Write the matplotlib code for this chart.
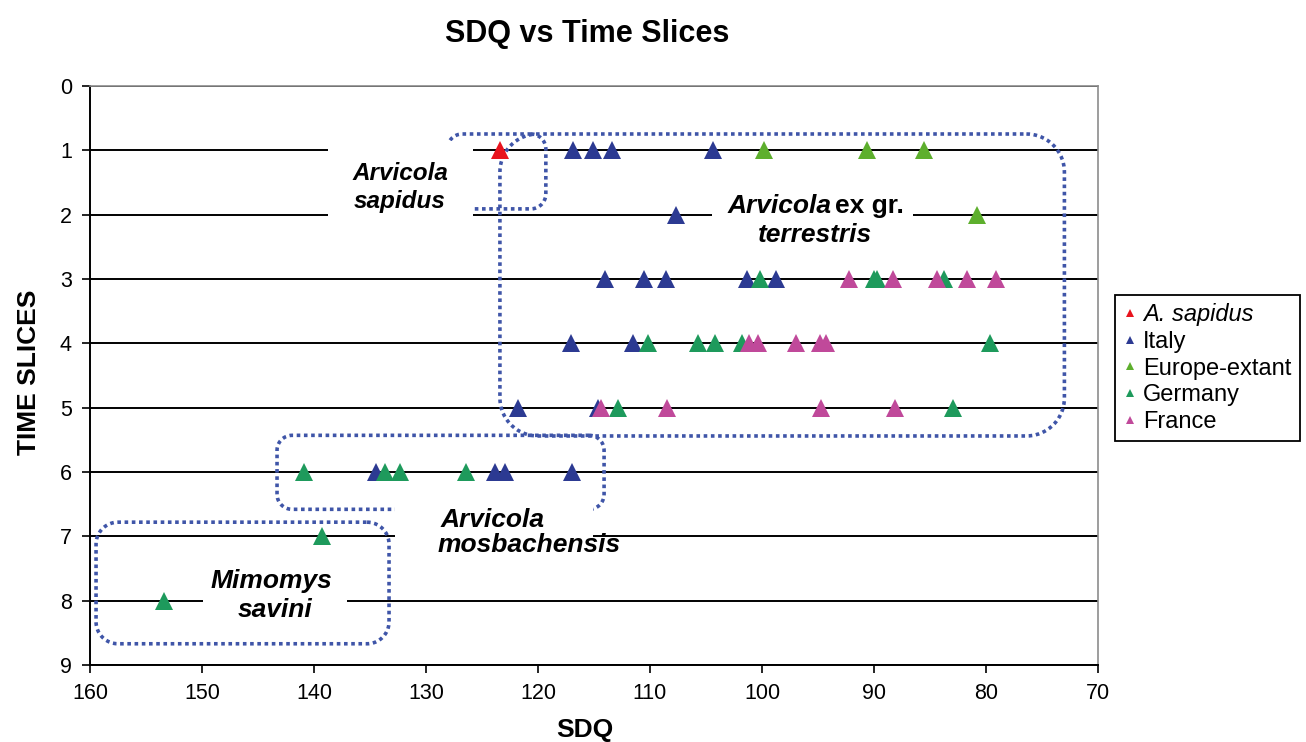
import numpy as np
import matplotlib
matplotlib.use("Agg")
import matplotlib.pyplot as plt
from matplotlib.patches import Rectangle

plt.rcParams['font.family'] = ['Liberation Sans', 'DejaVu Sans']

#Data (SDQ value, time slice)
sapidus_sdq = [123.4]
sapidus_slice = [1]

italy_sdq = [116.9, 115.1, 113.4, 104.4,
             107.7,
             114.0, 110.5, 108.6, 101.3, 98.75,
             117.05, 111.5,
             121.8, 114.6,
             134.5, 123.8, 122.95, 117.0]
italy_slice = [1, 1, 1, 1,
               2,
               3, 3, 3, 3, 3,
               4, 4,
               5, 5,
               6, 6, 6, 6]

europe_sdq = [99.8, 90.6, 85.5, 80.8]
europe_slice = [1, 1, 1, 2]

germany_sdq = [100.2, 90.0, 89.7, 83.75,
               110.2, 105.7, 104.2, 101.8, 79.6,
               112.9, 82.95,
               140.9, 133.7, 132.3, 126.4,
               139.3,
               153.4]
germany_slice = [3, 3, 3, 3,
                 4, 4, 4, 4, 4,
                 5, 5,
                 6, 6, 6, 6,
                 7,
                 8]

france_sdq = [92.2, 88.3, 84.4, 81.7, 79.1,
              101.2, 100.4, 97.0, 94.8, 94.3,
              114.4, 108.5, 94.7, 88.1]
france_slice = [3, 3, 3, 3, 3,
                4, 4, 4, 4, 4,
                5, 5, 5, 5]

series_names = ["A. sapidus", "Italy", "Europe-extant", "Germany", "France"]
series_colors = ["#E8141E", "#2C3A92", "#5DAF2D", "#1E9A5C", "#C0499A"]

x_ticks = list(range(160, 69, -10))
y_ticks = list(range(0, 10))

#Figure and axes
W, H = 1306, 742
fig = plt.figure(figsize=(W/100, H/100), dpi=100)
ax = fig.add_axes([90/W, 1 - 665/H, 1008/W, 579/H])
ax.set_xlim(160, 70)
ax.set_ylim(9, 0)
ax.set_xticks(x_ticks)
ax.set_yticks(y_ticks)
ax.tick_params(labelsize=15.5, length=6, width=1.2, pad=7, direction='out')
ax.grid(axis='y', color='black', lw=1.4)
ax.set_axisbelow(True)
for s in ['left', 'bottom']:
    ax.spines[s].set_linewidth(1.4)
for s in ['top', 'right']:
    ax.spines[s].set_color('#8c8c8c')
    ax.spines[s].set_linewidth(1.2)

#Points
all_sdq = [sapidus_sdq, italy_sdq, europe_sdq, germany_sdq, france_sdq]
all_slice = [sapidus_slice, italy_slice, europe_slice, germany_slice, france_slice]
for xs, ys, name, col in zip(all_sdq, all_slice, series_names, series_colors):
    ax.plot(xs, ys, linestyle='none', marker='^', ms=12.5, color=col,
            mec=col, mew=0, label=name, zorder=4, clip_on=False)

#Rounded dotted boxes (data extents, corner radius in pixels)
def rounded_box(x_a, x_b, y_a, y_b, r):
    p1 = ax.transData.transform((x_a, y_a))
    p2 = ax.transData.transform((x_b, y_b))
    L, R = min(p1[0], p2[0]), max(p1[0], p2[0])
    B, T = min(p1[1], p2[1]), max(p1[1], p2[1])
    pts = []
    for cx, cy, a0, a1 in [(R - r, T - r, 90, 0), (R - r, B + r, 0, -90),
                           (L + r, B + r, -90, -180), (L + r, T - r, 180, 90)]:
        ang = np.radians(np.linspace(a0, a1, 20))
        pts += list(zip(cx + r*np.cos(ang), cy + r*np.sin(ang)))
    pts.append(pts[0])
    d = ax.transData.inverted().transform(np.array(pts))
    ax.plot(d[:, 0], d[:, 1], color='#3F55A8', lw=2.6, linestyle=(0, (1, 1)),
            dash_capstyle='butt', zorder=1.5, clip_on=False)

rounded_box(123.4, 73.0, 0.746, 5.44, 38)
rounded_box(128.1, 119.3, 0.746, 1.91, 15)
rounded_box(143.3, 114.1, 5.43, 6.58, 15)
rounded_box(159.46, 133.3, 6.78, 8.67, 22)

#White text boxes that break the grid lines
for x_a, x_b, y_a, y_b in [(138.75, 125.8, 0.855, 2.176),
                           (104.46, 86.52, 1.62, 2.55),
                           (132.77, 115.09, 6.44, 7.45),
                           (149.9, 137.05, 7.52, 8.46)]:
    ax.add_patch(Rectangle((min(x_a, x_b), min(y_a, y_b)), abs(x_a - x_b),
                           abs(y_a - y_b), facecolor='white', edgecolor='none',
                           zorder=2))

#Group labels
tk = dict(fontweight='bold', va='baseline', zorder=3)
ax.text(132.32, 1.461, "Arvicola", fontsize=17.5, style='italic', ha='center', **tk)
ax.text(132.32, 1.896, "sapidus", fontsize=17.5, style='italic', ha='center', **tk)
ax.text(93.75, 1.974, "Arvicola", fontsize=19, style='italic', ha='right', **tk)
ax.text(93.5, 1.974, "ex gr.", fontsize=19, ha='left', **tk)
ax.text(95.3, 2.425, "terrestris", fontsize=19, style='italic', ha='center', **tk)
ax.text(128.7, 6.855, "Arvicola", fontsize=19, style='italic', ha='left', **tk)
ax.text(129.0, 7.244, "mosbachensis", fontsize=19, style='italic', ha='left', **tk)
ax.text(143.8, 7.80, "Mimomys", fontsize=19, style='italic', ha='center', **tk)
ax.text(143.5, 8.25, "savini", fontsize=19, style='italic', ha='center', **tk)

#Axis labels and title
ax.set_xlabel("SDQ", fontsize=19, fontweight='bold')
ax.xaxis.set_label_coords(0.491, -0.092)
ax.set_ylabel("TIME SLICES", fontsize=19, fontweight='bold')
ax.yaxis.set_label_coords(-0.049, 0.505)
fig.text(587/W, 1 - 42/H, "SDQ vs Time Slices", fontsize=22, fontweight='bold',
         ha='center', va='baseline')

#Legend
leg = ax.legend(loc='upper left', bbox_to_anchor=(1115/W, 1 - 295/H),
                bbox_transform=fig.transFigure, fontsize=17, markerscale=0.5,
                handlelength=0.6, handletextpad=0.25, labelspacing=0.2,
                borderpad=0.35, borderaxespad=0, fancybox=False,
                edgecolor='black', framealpha=1, numpoints=1)
leg.get_frame().set_linewidth(1.3)
leg.get_texts()[0].set_style('italic')

fig.savefig("out.png", dpi=100)
